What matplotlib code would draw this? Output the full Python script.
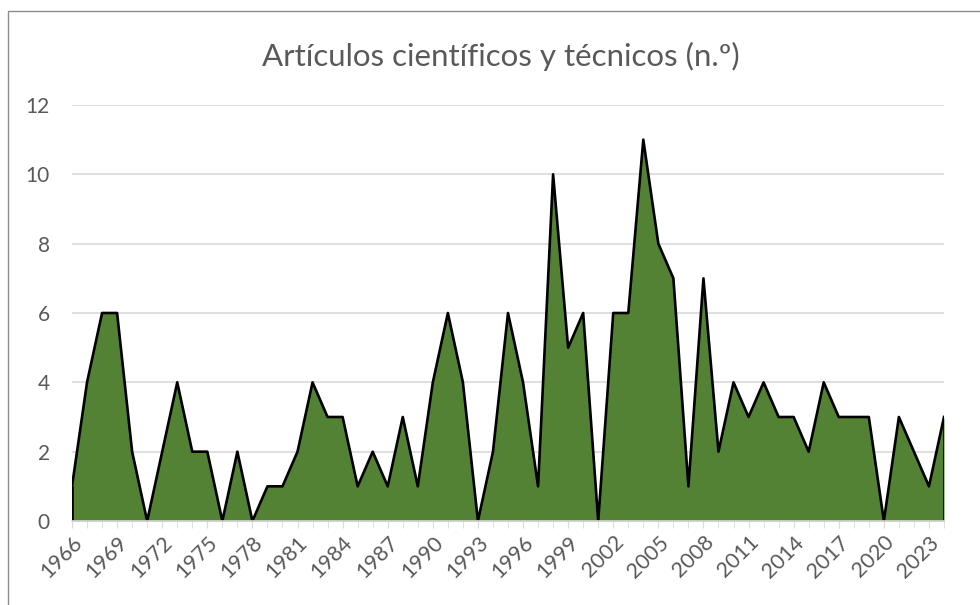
import matplotlib.pyplot as plt
from matplotlib.patches import Rectangle
from matplotlib.ticker import MultipleLocator

plt.rcParams['font.family'] = ['Lato', 'DejaVu Sans']

# Data
years = list(range(1966, 2025))
articles = [1, 4, 6, 6, 2, 0, 2, 4, 2, 2,
            0, 2, 0, 1, 1, 2, 4, 3, 3, 1,
            2, 1, 3, 1, 4, 6, 4, 0, 2, 6,
            4, 1, 10, 5, 6, 0, 6, 6, 11, 8,
            7, 1, 7, 2, 4, 3, 4, 3, 3, 2,
            4, 3, 3, 3, 0, 3, 2, 1, 3]
yticks = [0, 2, 4, 6, 8, 10, 12]
title = 'Artículos científicos y técnicos (n.º)'

text_color = '#595959'
grid_color = '#d9d9d9'

fig = plt.figure(figsize=(9.8, 6.05), dpi=100)
ax = fig.add_axes([72 / 980, 1 - 521 / 605, (944 - 72) / 980, (521 - 105) / 605])

ax.fill_between(years, articles, 0, color='#548235', zorder=2, linewidth=0)
ax.plot(years, articles, color='black', linewidth=1.9, zorder=3)
ax.vlines([years[0], years[-1]], 0, [articles[0], articles[-1]],
          color='black', linewidth=1.9, zorder=3)

ax.set_xlim(years[0], years[-1])
ax.set_ylim(0, 12)
ax.set_yticks(yticks)
ax.yaxis.grid(True, color=grid_color, linewidth=1.2, zorder=0)
ax.set_axisbelow(True)

ax.xaxis.set_major_locator(MultipleLocator(3))
ax.xaxis.set_minor_locator(MultipleLocator(1))
ax.set_xticks(years[::3])
ax.set_xticklabels([str(y) for y in years[::3]], rotation=45,
                   ha='right', va='top', rotation_mode='anchor')

for side in ['top', 'right', 'left']:
    ax.spines[side].set_visible(False)
ax.spines['bottom'].set_color(grid_color)
ax.spines['bottom'].set_linewidth(1.2)
ax.spines['bottom'].set_zorder(4)

ax.tick_params(axis='x', which='both', length=5, color=grid_color,
               labelsize=15.5, labelcolor=text_color, pad=3)
ax.tick_params(axis='y', length=0, labelsize=15, labelcolor=text_color, pad=16)

fig.text(0.511, 1 - 56 / 605, title, ha='center', va='center',
         fontsize=22.5, color=text_color)

# chart border like the Excel chart area
fig.patches.append(Rectangle((8 / 980, -0.1), 1.2, 1 - 11 / 605 + 0.1,
                             transform=fig.transFigure, fill=False,
                             edgecolor='#8c8c8c', linewidth=1))

fig.savefig('out.png', dpi=100, facecolor='white')
